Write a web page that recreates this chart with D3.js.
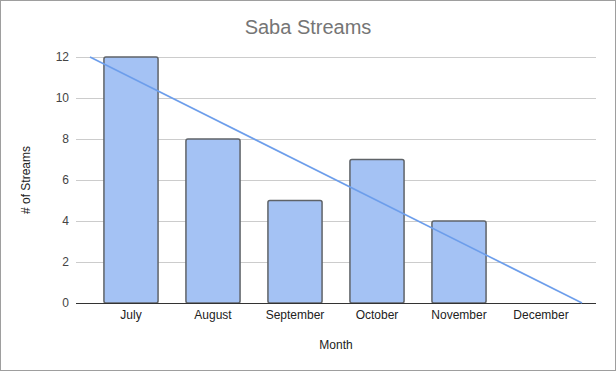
<!DOCTYPE html>
<html>
<head>
<meta charset="utf-8">
<script src="https://cdn.jsdelivr.net/npm/d3@7"></script>
<style>
  body { margin: 0; background: #fff; }
</style>
</head>
<body>
<div id="viz"></div>
<script>

const months = ["July", "August", "September", "October", "November", "December"]
const streams = [12, 8, 5, 7, 4, 0]
const yTicks = [0, 2, 4, 6, 8, 10, 12]

const width = 616
const height = 371
const font = "'Liberation Sans', Arial, sans-serif"

const svg = d3.select("#viz").append("svg")
  .attr("width", width)
  .attr("height", height)

svg.append("rect")
  .attr("x", 0.5)
  .attr("y", 0.5)
  .attr("width", width - 1)
  .attr("height", height - 1)
  .attr("fill", "#fff")
  .attr("stroke", "#9e9e9e")

const plotLeft = 76
const plotRight = 596

const x = d3.scaleBand()
  .domain(months)
  .range([90, 582])
  .paddingInner(0.34)
  .paddingOuter(0.17)

const y = d3.scaleLinear()
  .domain([0, 12])
  .range([303, 57])

// gridlines
svg.append("g")
  .selectAll("line")
  .data(yTicks.filter(d => d > 0))
  .enter()
  .append("line")
  .attr("x1", plotLeft)
  .attr("x2", plotRight)
  .attr("y1", d => y(d) + 0.5)
  .attr("y2", d => y(d) + 0.5)
  .attr("stroke", "#cccccc")

// y tick labels
svg.append("g")
  .selectAll("text")
  .data(yTicks)
  .enter()
  .append("text")
  .attr("x", 69)
  .attr("y", d => y(d) + 4)
  .attr("text-anchor", "end")
  .attr("font-size", 12)
  .attr("font-family", font)
  .attr("fill", "#444")
  .text(d => d)

// bars
svg.append("g")
  .selectAll("rect")
  .data(months)
  .enter()
  .append("rect")
  .attr("x", d => x(d))
  .attr("y", (d, i) => y(streams[i]))
  .attr("width", x.bandwidth())
  .attr("height", (d, i) => y(0) - y(streams[i]))
  .attr("rx", 2)
  .attr("fill", "#a4c2f4")
  .attr("stroke", "#5f6368")
  .attr("stroke-width", 1.5)

// baseline
svg.append("line")
  .attr("x1", plotLeft)
  .attr("x2", plotRight)
  .attr("y1", y(0) + 0.5)
  .attr("y2", y(0) + 0.5)
  .attr("stroke", "#333")

// linear trendline (least squares over month index)
const n = streams.length
const mx = d3.mean(streams, (d, i) => i)
const my = d3.mean(streams)
const slope = d3.sum(streams, (d, i) => (i - mx) * (d - my)) / d3.sum(streams, (d, i) => (i - mx) * (i - mx))
const intercept = my - slope * mx
const step = x.step()
const idxToX = i => x(months[0]) + x.bandwidth() / 2 + i * step
const t0 = (12 - intercept) / slope
const t1 = (0 - intercept) / slope

svg.append("line")
  .attr("x1", idxToX(t0))
  .attr("y1", y(12))
  .attr("x2", idxToX(t1))
  .attr("y2", y(0))
  .attr("stroke", "#6d9eeb")
  .attr("stroke-width", 1.6)

// x labels
svg.append("g")
  .selectAll("text")
  .data(months)
  .enter()
  .append("text")
  .attr("x", d => x(d) + x.bandwidth() / 2)
  .attr("y", 319)
  .attr("text-anchor", "middle")
  .attr("font-size", 12)
  .attr("font-family", font)
  .attr("fill", "#222")
  .text(d => d)

svg.append("text")
  .attr("x", width / 2)
  .attr("y", 34)
  .attr("text-anchor", "middle")
  .attr("font-size", 20)
  .attr("font-family", font)
  .attr("fill", "#757575")
  .text("Saba Streams")

svg.append("text")
  .attr("x", (plotLeft + plotRight) / 2)
  .attr("y", 349)
  .attr("text-anchor", "middle")
  .attr("font-size", 12)
  .attr("font-family", font)
  .attr("fill", "#222")
  .text("Month")

svg.append("text")
  .attr("transform", "translate(30," + (y(6)) + ") rotate(-90)")
  .attr("text-anchor", "middle")
  .attr("font-size", 12)
  .attr("font-family", font)
  .attr("fill", "#222")
  .text("# of Streams")

</script>
</body>
</html>
